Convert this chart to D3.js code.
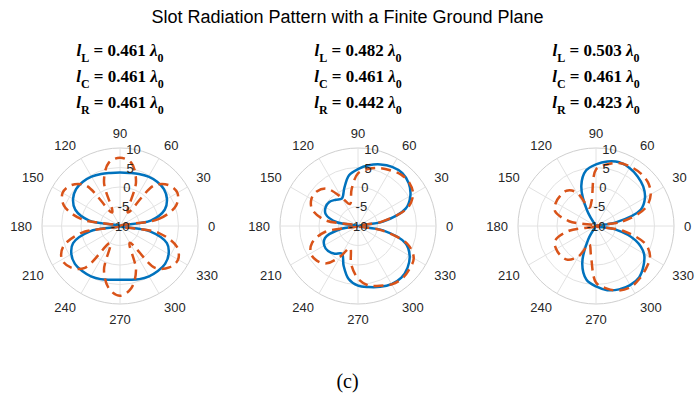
<!DOCTYPE html>
<html>
<head>
<meta charset="utf-8">
<script src="https://cdn.jsdelivr.net/npm/d3@7"></script>
<style>
  body { margin: 0; background: #fff; }
</style>
</head>
<body>
<div id="chart"></div>
<script>
// sample angles (degrees) shared by every pattern
const angles = [0,10,20,30,40,50,60,70,80,90,100,110,120,130,140,150,160,170,
                180,190,200,210,220,230,240,250,260,270,280,290,300,310,320,330,340,350];

// gain in dB (values under -10 sit at the centre)
const blue1   = [-12,-2,2.2,3.9,4.7,4.8,4.6,4.2,3.8,3.7,3.8,4.2,4.6,4.8,4.7,3.9,2.2,-2,
                 -12,-2.2,2.8,4.4,5.1,5.1,4.9,4.5,4.0,3.8,4.0,4.5,4.9,5.1,5.1,4.4,2.8,-2.2];
const orange1 = [-12,0,5.3,7.0,6.3,3.5,-6,2,6.5,7.5,6.5,2,-6,3.5,6.3,7.0,5.3,0,
                 -12,0,5.5,7.2,6.5,4,-5,2,6.3,7.9,6.3,2,-5,4,6.5,7.2,5.5,0];
const blue2   = [-12,-3.5,3,5.5,7.0,7.7,7.5,6.8,5.8,4.6,3.2,0.3,-1.8,-1.2,-0.4,-0.4,-1.2,-4.5,
                 -12,-5.5,-1,0,0,-0.7,-1.8,0.8,3.8,5.3,5.9,6.6,7.2,7.3,6.6,5.3,3.0,-3.5];
const orange2 = [-12,-4,3.5,6.3,7.2,7.2,6.5,5.8,4.8,3.5,-0.5,-4,-1.5,2.5,3.8,3.8,2.5,-1.5,
                 -12,-1.5,2.5,4.0,3.8,2.5,-1,-4,0,3.5,5.5,6.3,7.3,7.6,7.2,6.5,3.5,-4];
const blue3   = [-12,-5,2.2,4.5,5.8,6.6,7.2,7.4,6.8,5.8,4.5,1,-5.5,-12,-12,-12,-12,-12,
                 -12,-12,-12,-12,-12,-12,-6,0.3,4.0,5.5,6.7,7.3,7.5,7.2,5.9,4.2,0.8,-5];
const orange3 = [-12,-3,3.5,6.2,7.4,7.7,7.6,7.2,6.0,4.5,-3.5,-5,0,1.8,2.0,1.9,1.2,-3,
                 -12,-3,1.2,1.8,1.8,1.3,-1,-5,-2.5,4.5,6.3,7.6,8.0,7.5,6.8,6.0,3.5,-3];

const thetaTicks = [0,30,60,90,120,150,180,210,240,270,300,330];
const rTicks = [-10,-5,0,5,10];

// slot lengths per panel (in wavelengths)
const lenL = ["0.461","0.482","0.503"];
const lenC = ["0.461","0.461","0.461"];
const lenR = ["0.461","0.442","0.423"];

const titleText = "Slot Radiation Pattern with a Finite Ground Plane";
const panelLabel = "(c)";

const panels = [
  {blue: blue1, orange: orange1},
  {blue: blue2, orange: orange2},
  {blue: blue3, orange: orange3}
];

const width = 695, height = 393;
const R = 78, cy = 226;
const cxs = [120, 358, 596];

const svg = d3.select("#chart").append("svg")
  .attr("width", width)
  .attr("height", height);

svg.append("rect").attr("width", width).attr("height", height).attr("fill", "#fff");

// radial scale, clamped so anything under -10 dB lands on the centre
const rScale = d3.scaleLinear().domain([-10, 10]).range([0, R]).clamp(true);
const toRad = d => d * Math.PI / 180;

const line = d3.lineRadial()
  .angle(d => toRad(90 - d[0]))
  .radius(d => rScale(d[1]))
  .curve(d3.curveCatmullRomClosed.alpha(0.5));

const font = "'Liberation Sans', Arial, Helvetica, sans-serif";
const serif = "'Liberation Serif', 'Times New Roman', Times, serif";

svg.append("text")
  .attr("x", width / 2)
  .attr("y", 23)
  .attr("text-anchor", "middle")
  .attr("font-family", font)
  .attr("font-size", 18)
  .attr("fill", "#000")
  .text(titleText);

panels.forEach((p, i) => {
  const g = svg.append("g").attr("transform", `translate(${cxs[i]},${cy})`);

  // grid circles
  g.selectAll(".ring")
    .data(rTicks.slice(1))
    .enter().append("circle")
    .attr("r", d => rScale(d))
    .attr("fill", "none")
    .attr("stroke", d => d === 10 ? "#cfcfcf" : "#e2e2e2")
    .attr("stroke-width", 1);

  // spokes
  g.selectAll(".spoke")
    .data(thetaTicks)
    .enter().append("line")
    .attr("x1", 0).attr("y1", 0)
    .attr("x2", d => R * Math.cos(toRad(d)))
    .attr("y2", d => -R * Math.sin(toRad(d)))
    .attr("stroke", "#e2e2e2")
    .attr("stroke-width", 1);

  // angle labels
  g.selectAll(".tlab")
    .data(thetaTicks)
    .enter().append("text")
    .attr("x", d => 88 * Math.cos(toRad(d)))
    .attr("y", d => -88 * Math.sin(toRad(d)))
    .attr("text-anchor", d => {
      const c = Math.cos(toRad(d));
      return c > 0.3 ? "start" : c < -0.3 ? "end" : "middle";
    })
    .attr("dy", d => {
      const s = Math.sin(toRad(d));
      return s > 0.3 ? "0" : s < -0.3 ? "0.75em" : "0.35em";
    })
    .attr("font-family", font)
    .attr("font-size", 13)
    .attr("fill", "#262626")
    .text(d => d);

  // curves
  const blueData = angles.map((a, k) => [a, p.blue[k]]);
  const orangeData = angles.map((a, k) => [a, p.orange[k]]);

  g.append("path")
    .datum(blueData)
    .attr("d", line)
    .attr("fill", "none")
    .attr("stroke", "#0072BD")
    .attr("stroke-width", 2.5);

  g.append("path")
    .datum(orangeData)
    .attr("d", line)
    .attr("fill", "none")
    .attr("stroke", "#D95319")
    .attr("stroke-width", 2.5)
    .attr("stroke-dasharray", "10,6");

  // radial tick labels along 80 degrees
  g.selectAll(".rlab")
    .data(rTicks)
    .enter().append("text")
    .attr("x", d => rScale(d) * Math.cos(toRad(80)))
    .attr("y", d => -rScale(d) * Math.sin(toRad(80)))
    .attr("dy", "0.35em")
    .attr("text-anchor", "middle")
    .attr("font-family", font)
    .attr("font-size", 13)
    .attr("fill", "#262626")
    .text(d => d);

  // slot length annotations
  const rows = [["L", lenL[i]], ["C", lenC[i]], ["R", lenR[i]]];
  rows.forEach((row, j) => {
    const t = svg.append("text")
      .attr("x", cxs[i])
      .attr("y", 56 + j * 26)
      .attr("text-anchor", "middle")
      .attr("font-family", serif)
      .attr("font-weight", "bold")
      .attr("font-size", 17)
      .attr("fill", "#000");
    t.append("tspan").attr("font-style", "italic").text("l");
    t.append("tspan").attr("dy", 6).attr("font-size", 12).text(row[0]);
    t.append("tspan").attr("dy", -6).text(" = " + row[1] + " ");
    t.append("tspan").attr("font-style", "italic").text("λ");
    t.append("tspan").attr("dy", 6).attr("font-size", 12).text("0");
  });
});

svg.append("text")
  .attr("x", width / 2)
  .attr("y", 388)
  .attr("text-anchor", "middle")
  .attr("font-family", serif)
  .attr("font-size", 20)
  .attr("fill", "#000")
  .text(panelLabel);
</script>
</body>
</html>
